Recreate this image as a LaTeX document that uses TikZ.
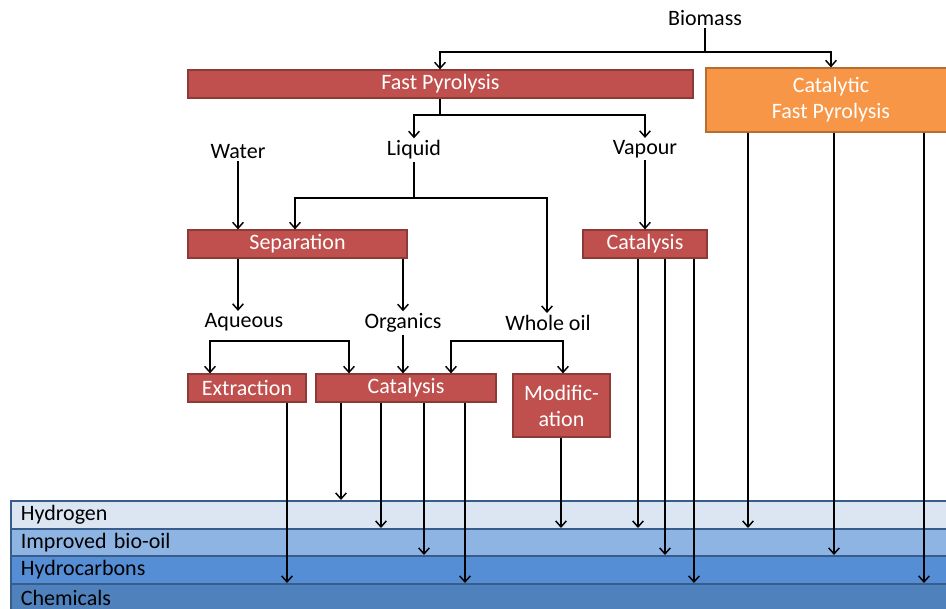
\documentclass[tikz,border=0pt]{standalone}
\usepackage{fontspec}
\setmainfont{Carlito}
\usetikzlibrary{arrows.meta}
\definecolor{redfill}{HTML}{C0504D}
\definecolor{redline}{HTML}{8C3A38}
\definecolor{orfill}{HTML}{F79646}
\definecolor{orline}{HTML}{B66D31}
\definecolor{bandA}{HTML}{DCE6F2}
\definecolor{bandB}{HTML}{8EB4E3}
\definecolor{bandC}{HTML}{558ED5}
\definecolor{bandD}{HTML}{4F81BD}
\definecolor{bandline}{HTML}{385D8A}
\tikzset{
  lbl/.style={inner sep=1.5pt, font=\fontsize{16.5}{19.5}\selectfont},
  redbox/.style={draw=redline, fill=redfill, text=white, inner sep=0pt, line width=0.9pt, align=center, font=\fontsize{16.5}{19.5}\selectfont},
  orbox/.style={draw=orline, fill=orfill, text=white, inner sep=0pt, line width=0.9pt, align=center, font=\fontsize{16.5}{19.5}\selectfont},
  band/.style={draw=bandline, line width=1.3pt, minimum width=709.5pt, text width=694.5pt, inner xsep=7.5pt, inner ysep=0pt, align=left, anchor=north west, font=\fontsize{16.5}{19.5}\selectfont},
  arr/.style={line width=1.1pt, -{Straight Barb[length=4.5pt,width=8pt,line width=1.1pt]}},
  arrs/.style={line width=1.1pt, {Straight Barb[length=4.5pt,width=8pt,line width=1.1pt]}-{Straight Barb[length=4.5pt,width=8pt,line width=1.1pt]}},
  ln/.style={line width=1.1pt}
}
\begin{document}
\begin{tikzpicture}[x=0.75pt,y=-0.75pt]
\useasboundingbox (0,0) rectangle (946,608);
\clip (0,0) rectangle (946,608);
\fill[white] (0,0) rectangle (946,608);
% bands
\node[band, fill=bandA, minimum height=21pt] (hyd) at (10,500) {Hydrogen};
\node[band, fill=bandB, minimum height=20.25pt] (ibo) at (10,528) {Improved bio-oil};
\node[band, fill=bandC, minimum height=21pt] (hc) at (10,555) {Hydrocarbons};
\node[band, fill=bandD, minimum height=21pt] (chem) at (10,583) {Chemicals};
% boxes
\node[redbox, minimum width=378.75pt, minimum height=21pt] (fp) at (440.5,84) {Fast Pyrolysis};
\node[orbox, minimum width=187.5pt, minimum height=48pt] (cfp) at (831,100) {Catalytic\\Fast Pyrolysis};
\node[redbox, minimum width=164.25pt, minimum height=21pt] (sep) at (297.5,244) {Separation};
\node[redbox, minimum width=93pt, minimum height=21pt] (catv) at (645,244) {Catalysis};
\node[redbox, minimum width=88.5pt, minimum height=21pt] (ext) at (247,388) {Extraction};
\node[redbox, minimum width=135pt, minimum height=21pt] (cato) at (406,388) {Catalysis};
\node[redbox, minimum width=72.75pt, minimum height=47.25pt] (mod) at (561.5,405.5) {Modific-\\ation};
% labels
\node[lbl] (biomass) at (705,18) {Biomass};
\node[lbl] (water) at (238,152) {Water};
\node[lbl] (liquid) at (414,150) {Liquid};
\node[lbl] (vapour) at (645,149) {Vapour};
\node[lbl] (aqueous) at (244,322) {Aqueous};
\node[lbl] (organics) at (403,323) {Organics};
\node[lbl] (wholeoil) at (548,323) {Whole oil};
% helper coordinates
\coordinate (bj) at (705,52);
\coordinate (fj) at (440,115);
\coordinate (lj) at (414,198);
\coordinate (aq1) at (210,341);
\coordinate (aq2) at (349,341);
\coordinate (wo1) at (451,341);
\coordinate (wo2) at (563,341);
\coordinate (x238) at (238,0);
\coordinate (x295) at (295,0);
\coordinate (x440) at (440,0);
\coordinate (x547) at (547,0);
\foreach \xx in {287,341,381,424,465,561,638,665,694,748,834,924}{\coordinate (c\xx) at (\xx,0);}
% connectors top
\draw[ln] (biomass.south) -- (bj);
\draw[arr] (bj) -| (fp.north -| x440);
\draw[arr] (bj) -| (cfp.north);
\draw[ln] (fp.south -| x440) -- (fj);
\draw[arr] (fj) -| (liquid.north);
\draw[arr] (fj) -| (vapour.north);
\draw[ln] (liquid.south) -- (lj);
\draw[arr] (lj) -| (sep.north -| x295);
\draw[arr] (lj) -| (wholeoil.north -| x547);
\draw[arr] (water.south) -- (sep.north -| water.south);
\draw[arr] (vapour.south) -- (catv.north);
\draw[arr] (sep.south -| x238) -- (aqueous.north -| x238);
\draw[arr] (sep.south -| organics.north) -- (organics.north);
\draw[arrs] (ext.north -| aq1) -- (aq1) -- (aq2) -- (cato.north -| aq2);
\draw[arr] (organics.south) -- (cato.north -| organics.south);
\draw[arrs] (cato.north -| wo1) -- (wo1) -- (wo2) -- (mod.north -| wo2);
% outputs
\draw[arr] (ext.south -| c287) -- (chem.north -| c287);
\draw[arr] (cato.south -| c341) -- (hyd.north -| c341);
\draw[arr] (cato.south -| c381) -- (ibo.north -| c381);
\draw[arr] (cato.south -| c424) -- (hc.north -| c424);
\draw[arr] (cato.south -| c465) -- (chem.north -| c465);
\draw[arr] (mod.south -| c561) -- (ibo.north -| c561);
\draw[arr] (catv.south -| c638) -- (ibo.north -| c638);
\draw[arr] (catv.south -| c665) -- (hc.north -| c665);
\draw[arr] (catv.south -| c694) -- (chem.north -| c694);
\draw[arr] (cfp.south -| c748) -- (ibo.north -| c748);
\draw[arr] (cfp.south -| c834) -- (hc.north -| c834);
\draw[arr] (cfp.south -| c924) -- (chem.north -| c924);
\end{tikzpicture}
\end{document}
